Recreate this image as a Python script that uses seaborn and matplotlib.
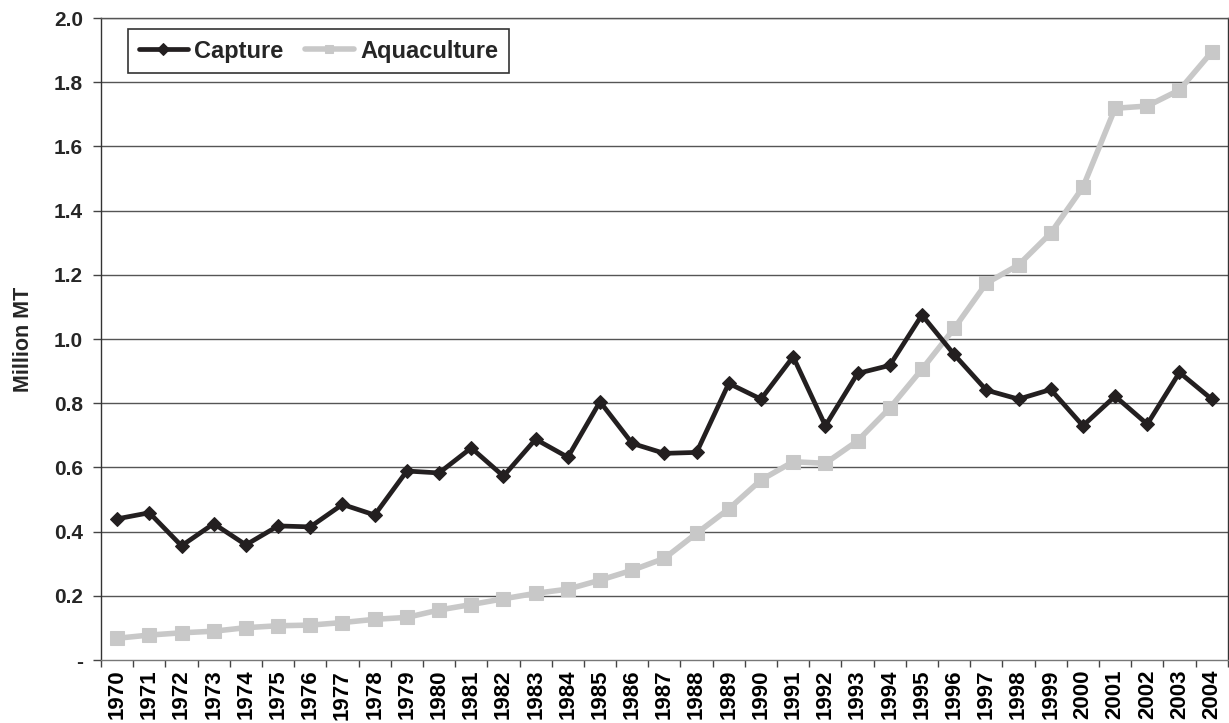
import matplotlib
matplotlib.use("Agg")
import matplotlib.pyplot as plt
import seaborn as sns
import pandas as pd
import numpy as np

years = list(range(1970, 2005))
capture = [0.440, 0.459, 0.356, 0.425, 0.359, 0.418, 0.415, 0.485, 0.452, 0.589,
           0.583, 0.661, 0.573, 0.688, 0.632, 0.805, 0.675, 0.644, 0.647, 0.862,
           0.813, 0.945, 0.730, 0.893, 0.918, 1.075, 0.952, 0.841, 0.813, 0.843,
           0.730, 0.822, 0.735, 0.896, 0.813]
aquaculture = [0.068, 0.078, 0.085, 0.090, 0.101, 0.107, 0.109, 0.117, 0.127, 0.133,
               0.156, 0.173, 0.191, 0.208, 0.221, 0.249, 0.280, 0.317, 0.395, 0.471,
               0.561, 0.618, 0.613, 0.683, 0.785, 0.906, 1.033, 1.174, 1.231, 1.330,
               1.473, 1.719, 1.726, 1.776, 1.894]
yticks = [0.0, 0.2, 0.4, 0.6, 0.8, 1.0, 1.2, 1.4, 1.6, 1.8, 2.0]
ytick_labels = ["-", "0.2", "0.4", "0.6", "0.8", "1.0", "1.2", "1.4", "1.6", "1.8", "2.0"]

df = pd.DataFrame({"idx": np.arange(len(years)), "year": years,
                   "Capture": capture, "Aquaculture": aquaculture})

sns.set_theme(style="white")
plt.rcParams['font.family'] = ['Liberation Sans', 'DejaVu Sans']
plt.rcParams['font.weight'] = 'bold'

fig = plt.figure(figsize=(12.29, 7.23), dpi=100)
ax = fig.add_axes([0.0822, 0.087, 0.9168, 0.888])

grid_col = "#555555"
for y in yticks[1:]:
    ax.axhline(y, color=grid_col, lw=1.0, zorder=1)

sns.lineplot(data=df, x="idx", y="Capture", ax=ax, color="#231f20", lw=3.4,
             marker="D", markersize=7, markeredgecolor="#231f20",
             label="Capture", zorder=3)
sns.lineplot(data=df, x="idx", y="Aquaculture", ax=ax, color="#c8c8c8", lw=4,
             marker="s", markersize=10, markeredgecolor="#c8c8c8",
             label="Aquaculture", zorder=2)

ax.set_xlim(-0.5, len(years) - 0.5)
ax.set_ylim(0, 2.0)
ax.set_xticks(np.arange(len(years)))
ax.set_xticklabels([str(y) for y in years], rotation=90, fontsize=16, fontweight="bold")
ax.set_xticks(np.arange(len(years) + 1) - 0.5, minor=True)
ax.tick_params(axis="x", which="major", length=0, pad=7, colors="black")
ax.tick_params(axis="x", which="minor", length=5, width=1, color="#444444", bottom=True)
ax.set_yticks(yticks)
ax.set_yticklabels(ytick_labels, fontsize=15, fontweight="bold")
ax.tick_params(axis="y", which="major", length=6, width=1, color="#444444", left=True, pad=7)
ax.set_xlabel("")
ax.set_ylabel("Million MT", fontsize=15.5, fontweight="bold", labelpad=14)

for side in ["left", "right", "bottom", "top"]:
    ax.spines[side].set_visible(True)
    ax.spines[side].set_linewidth(1.0)
ax.spines["left"].set_color("#333333")
ax.spines["right"].set_color("#333333")
ax.spines["bottom"].set_color("#777777")
ax.spines["top"].set_color(grid_col)

leg = ax.legend(loc="upper left", bbox_to_anchor=(0.024, 0.983), ncol=2,
                frameon=True, fancybox=False, handlelength=2.1,
                columnspacing=0.9, handletextpad=0.25, borderpad=0.45,
                borderaxespad=0.0,
                prop={"weight": "bold", "size": 17})
leg.get_frame().set_edgecolor("black")
leg.get_frame().set_linewidth(1.2)
for h in leg.legend_handles:
    h.set_markersize(6)

fig.savefig("out.png", dpi=100)
